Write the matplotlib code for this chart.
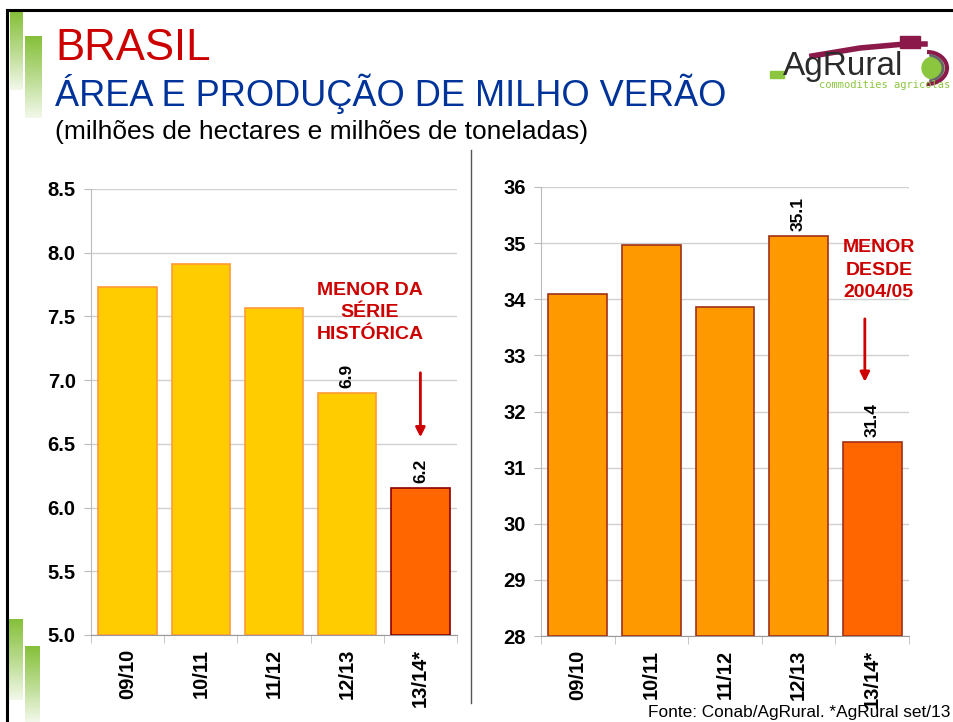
import matplotlib
matplotlib.use("Agg")
import matplotlib.pyplot as plt
from matplotlib.lines import Line2D
from matplotlib.patches import Rectangle, Arc
import numpy as np

plt.rcParams['font.family'] = ['Liberation Sans', 'DejaVu Sans']

# data
safras = ["09/10", "10/11", "11/12", "12/13", "13/14*"]
area = [7.73, 7.91, 7.57, 6.90, 6.15]
producao = [34.09, 34.96, 33.87, 35.12, 31.45]
area_labels = {3: "6.9", 4: "6.2"}
prod_labels = {3: "35.1", 4: "31.4"}

W, H = 954, 722
fig = plt.figure(figsize=(W / 100, H / 100), dpi=100)


def fx(px):
    return px / W


def fy(py):
    return 1 - py / H


# slide frame
fig.add_artist(Line2D([fx(7), fx(954)], [fy(10), fy(10)], color="black", lw=2.2))
fig.add_artist(Line2D([fx(7), fx(7)], [fy(10), fy(722)], color="black", lw=2.2))
fig.add_artist(Line2D([fx(471), fx(471)], [fy(150), fy(703)], color="#555555", lw=1))

# green gradient bars
grad = np.linspace(0, 1, 100).reshape(-1, 1)
green_cmap = matplotlib.colors.LinearSegmentedColormap.from_list(
    "g", ["#86C03A", "#B9DB8E", "#F2F8EA"])
for x0, x1, y0, y1 in [(10, 23, 12, 90), (25, 42, 36, 118),
                       (9, 23, 619, 700), (25, 40, 646, 722)]:
    gax = fig.add_axes([fx(x0), fy(y1), fx(x1 - x0), (y1 - y0) / H])
    gax.imshow(grad, aspect="auto", cmap=green_cmap)
    gax.axis("off")

# titles
fig.text(fx(55), fy(48), "BRASIL", color="#CC0000", fontsize=31.5, va="center")
fig.text(fx(55), fy(94), "ÁREA E PRODUÇÃO DE MILHO VERÃO", color="#003399",
         fontsize=26, va="center")
fig.text(fx(55), fy(132), "(milhões de hectares e milhões de toneladas)",
         color="black", fontsize=19, va="center")
fig.text(fx(950), fy(712), "Fonte: Conab/AgRural. *AgRural set/13",
         ha="right", va="center", fontsize=12.4)

# logo
fig.add_artist(Rectangle((fx(770), fy(78)), fx(14), 7 / H, color="#8CC63F"))
fig.text(fx(783), fy(66), "AgRural", fontsize=24, color="#2B2B2B", va="center")
fig.text(fx(950), fy(85), "commodities agricolas", fontsize=7.5, color="#8CC63F",
         va="center", ha="right", family="DejaVu Sans Mono")
fig.add_artist(Line2D([fx(812), fx(860), fx(905), fx(925)],
                      [fy(56), fy(48), fy(44), fy(44)], color="#8B1A4A", lw=4))
fig.add_artist(Rectangle((fx(900), fy(48)), fx(20), 12 / H, color="#8B1A4A"))
logo_ax = fig.add_axes([fx(905), fy(90), fx(50), 45 / H])
logo_ax.set_xlim(0, 50)
logo_ax.set_ylim(0, 45)
logo_ax.axis("off")
logo_ax.add_patch(matplotlib.patches.Circle((28, 22), 11, color="#8CC63F"))
logo_ax.add_patch(Arc((22, 22), 40, 32, theta1=-90, theta2=90, color="#8B1A4A", lw=3))
logo_ax.add_patch(Arc((22, 22), 32, 26, theta1=-80, theta2=80, color="#666666", lw=2))


def draw_panel(rect, values, colors, edges, ylim, yticks, fmt, labels):
    ax = fig.add_axes(rect)
    x = np.arange(len(values))
    ax.bar(x, [v - ylim[0] for v in values], bottom=ylim[0], width=0.8,
           color=colors, edgecolor=edges, linewidth=1.2, zorder=3)
    ax.set_xlim(-0.5, len(values) - 0.5)
    ax.set_ylim(*ylim)
    ax.set_yticks(yticks)
    ax.set_yticklabels([fmt % t for t in yticks], fontsize=14.5, fontweight="bold")
    ax.set_xticks(x)
    ax.set_xticklabels(safras, rotation=90, fontsize=14.5, fontweight="bold")
    ax.tick_params(axis="x", length=0, pad=10)
    ax.set_xticks(np.arange(-0.5, len(values)), minor=True)
    ax.tick_params(axis="x", which="minor", length=6, color="#BBBBBB", direction="out")
    ax.tick_params(axis="y", length=5, color="#BBBBBB", pad=6)
    ax.grid(axis="y", color="#D0D0D0", lw=1, zorder=0)
    for s in ["top", "right"]:
        ax.spines[s].set_visible(False)
    ax.spines["left"].set_color("#BBBBBB")
    ax.spines["bottom"].set_color("#999999")
    for i, t in labels.items():
        ax.text(i, values[i] + (ylim[1] - ylim[0]) * 0.012, t, rotation=90,
                ha="center", va="bottom", fontsize=12.5, fontweight="bold")
    return ax


ax1 = draw_panel([fx(91), fy(635), fx(457 - 91), (635 - 189) / H], area,
                 ["#FFCC00"] * 4 + ["#FF6600"],
                 ["#FF9933"] * 4 + ["#8B0000"],
                 (5.0, 8.5), np.arange(5.0, 8.51, 0.5), "%.1f", area_labels)
ax1.text(3.31, 7.53, "MENOR DA\nSÉRIE\nHISTÓRICA", color="#CC0000", ha="center",
         va="center", fontsize=14, fontweight="bold", linespacing=1.4)
ax1.annotate("", xy=(4.0, 6.53), xytext=(4.0, 7.08),
             arrowprops=dict(arrowstyle="-|>", color="#CC0000", lw=2,
                             mutation_scale=14))

ax2 = draw_panel([fx(541), fy(636), fx(909 - 541), (636 - 187) / H], producao,
                 ["#FF9900"] * 4 + ["#FF6600"],
                 ["#A0301A"] * 5,
                 (28, 36), np.arange(28, 37, 1), "%d", prod_labels)
ax2.text(4.09, 34.52, "MENOR\nDESDE\n2004/05", color="#CC0000", ha="center",
         va="center", fontsize=14, fontweight="bold", linespacing=1.4)
ax2.annotate("", xy=(3.9, 32.48), xytext=(3.9, 33.7),
             arrowprops=dict(arrowstyle="-|>", color="#CC0000", lw=2,
                             mutation_scale=14))

fig.savefig("out.png", dpi=100)
